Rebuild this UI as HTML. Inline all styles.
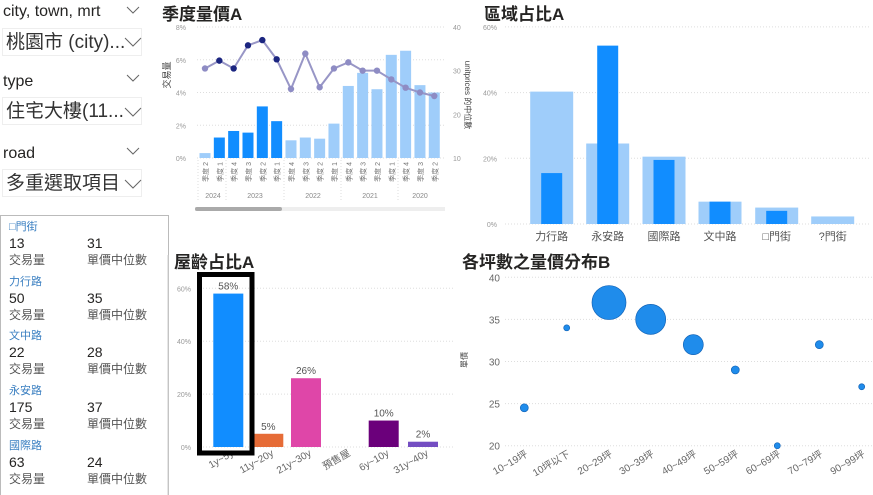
<!DOCTYPE html>
<html><head><meta charset="utf-8"><style>
body{margin:0;width:873px;height:495px;background:#fff;overflow:hidden;position:relative;font-family:"Liberation Sans","Noto Sans CJK TC",sans-serif;}
.a{position:absolute;white-space:nowrap}
.sh{font-size:16px;color:#252423}
.sb{border:1px solid #eee;font-size:19px;color:#333;padding-left:3px;height:28px;line-height:28px;width:140px;box-sizing:border-box}
.t{font-size:11px;color:#3a7fc1}
.n{font-size:14px;color:#252423}
.l{font-size:12px;color:#555}
</style></head><body>
<div class="a sh" style="left:3px;top:3px">city, town, mrt</div>
<div class="a sb" style="left:2px;top:28px">桃園市 (city)...</div>
<div class="a sh" style="left:3px;top:73px">type</div>
<div class="a sb" style="left:2px;top:97px">住宅大樓(11...</div>
<div class="a sh" style="left:3px;top:145px">road</div>
<div class="a sb" style="left:2px;top:169px">多重選取項目</div>
<div class="a" style="left:0;top:215px;width:169px;height:280px;border:1px solid #bbb;border-bottom:none;box-sizing:border-box"></div>
<div id="tbl"></div>
<svg class="a" style="left:0;top:0" width="873" height="495" id="s" font-family="Liberation Sans, Noto Sans CJK TC, sans-serif"></svg>
<script>
var S='';
function R(x,y,w,h,c){S+=`<rect x="${x}" y="${y}" width="${w}" height="${h}" fill="${c}"/>`}
function T(x,y,t,sz,c,a,ex){S+=`<text x="${x}" y="${y}" font-size="${sz}" fill="${c}" text-anchor="${a||'start'}" ${ex||''}>${t}</text>`}
function L(x1,y1,x2,y2,c,ex){S+=`<line x1="${x1}" y1="${y1}" x2="${x2}" y2="${y2}" stroke="${c}" ${ex||''}/>`}
function CH(x,y,s){S+=`<polyline points="${x-s},${y-s/2} ${x},${y+s/2} ${x+s},${y-s/2}" fill="none" stroke="#666" stroke-width="1"/>`}
CH(133,10,6);CH(133,42,8);CH(133,78,6);CH(133,112,8);CH(133,151,6);CH(133,184,8);
// titles
T(162,20,'季度量價A',17,'#252423','start','font-weight="bold"');
T(484,20,'區域占比A',17,'#252423','start','font-weight="bold"');
T(174,268,'屋齡占比A',17,'#252423','start','font-weight="bold"');
T(462,268,'各坪數之量價分布B',17,'#252423','start','font-weight="bold"');
// chart1
for(var i=0;i<=4;i++){var y=158-i*32.75;L(197,y,445,y,'#ddd','stroke-dasharray="1,2"');T(186,y+3,(i*2)+'%',7,'#999','end');}
for(var i=0;i<4;i++){T(453,158-i*43.67+3,10+i*10,7,'#999')}
T(170,75,'交易量',9,'#444','middle','transform="rotate(-90 170 75)"');
T(465,95,'unitprices 的中位數',8,'#444','middle','transform="rotate(90 465 95)"');
var bh=[0.3,1.25,1.65,1.55,3.15,2.25,1.08,1.25,1.18,2.1,4.4,5.2,4.2,6.3,6.55,4.45,4.0];
var lv=[30.5,32.3,30.5,35.8,37,32.6,25.8,33.9,26.2,30.5,31.9,30,30,28,26.1,25,24.2];
var q=['2','1','4','3','2','1','4','3','2','1','4','3','2','1','4','3','2'];
var pts=[];
for(i=0;i<17;i++){var cx=205+i*14.33,h=bh[i]*16.375,dk=(i>=1&&i<=5);R(cx-5.5,158-h,11,h,dk?'#118dff':'#9fcdfa');pts.push([cx,158-(lv[i]-10)*4.367]);
T(cx+3,162,'季度 '+q[i],7,'#777','end','transform="rotate(-90 '+(cx+3)+' 162)"');}
S+='<polyline fill="none" stroke="#9896c6" stroke-width="2" points="'+pts.map(p=>p.join(',')).join(' ')+'"/>';
for(i=0;i<17;i++){var dk=(i>=1&&i<=5);S+=`<circle cx="${pts[i][0]}" cy="${pts[i][1]}" r="3.2" fill="${dk?'#1b2580':'#8e8cc4'}"/>`}
[[213,'2024'],[255,'2023'],[313,'2022'],[370,'2021'],[420,'2020']].forEach(p=>T(p[0],198,p[1],7,'#888','middle'));
[198,226,284,341,398].forEach(x=>L(x,160,x,202,'#ddd','stroke-dasharray="1,2"'));
R(195,207,250,4,'#eee');S+='<rect x="195" y="207" width="87" height="4" rx="2" fill="#aaa"/>';
// chart2
for(i=0;i<4;i++){var y=224-i*65.7;L(505,y,870,y,'#ddd','stroke-dasharray="1,2"');T(497,y+3,(i*20)+'%',7,'#999','end');}
var cc=[551.7,607.7,664,720,776.7,832.7],lg=[40.3,24.5,20.5,6.8,5,2.3],dg=[15.5,54.3,19.5,6.8,4,0],nm=['力行路','永安路','國際路','文中路','□門街','?門街'];
for(i=0;i<6;i++){R(cc[i]-21.5,224-lg[i]*3.285,43,lg[i]*3.285,'#9fcdfa');if(dg[i])R(cc[i]-10.5,224-dg[i]*3.285,21,dg[i]*3.285,'#118dff');T(cc[i],240,nm[i],11,'#555','middle');}
// chart3
for(i=0;i<4;i++){var y=447-i*52.9;L(200,y,455,y,'#ddd','stroke-dasharray="1,2"');T(191,y+3,(i*20)+'%',7,'#999','end');}
L(168,255,168,495,'#ccc');
var ac=[228.3,268.3,306,345,383.7,423],av=[58,5,26,0,10,2],acol=['#118dff','#e66c37','#df46a8','','#6b007b','#744ec2'],an=['1y~5y','11y~20y','21y~30y','預售屋','6y~10y','31y~40y'];
for(i=0;i<6;i++){if(av[i]){var h=av[i]*2.645;R(ac[i]-15,447-h,30,h,acol[i]);T(ac[i],447-h-4,av[i]+'%',10,'#555','middle');}
T(ac[i]+6,455,an[i],10,'#666','end','transform="rotate(-30 '+(ac[i]+6)+' 455)"');}
S+='<rect x="199.5" y="274.5" width="52.5" height="178.5" fill="none" stroke="#000" stroke-width="5"/>';
// chart4
for(i=0;i<5;i++){var y=445.7-i*42.1;L(505,y,873,y,'#ddd','stroke-dasharray="1,2"');T(500,y+4,20+i*5,10,'#666','end');}
T(467,360,'單價',8,'#444','middle','transform="rotate(-90 467 360)"');
var bp=[[524.3,24.5,4,'10~19坪'],[566.7,34,3,'10坪以下'],[609,37,17,'20~29坪'],[650.7,35,15,'30~39坪'],[693.3,32,10,'40~49坪'],[735.3,29,4,'50~59坪'],[777.3,20,3,'60~69坪'],[819.3,32,4,'70~79坪'],[861.7,27,3,'90~99坪']];
bp.forEach(p=>{S+=`<circle cx="${p[0]}" cy="${445.7-(p[1]-20)*8.42}" r="${p[2]}" fill="#1f8ceb" stroke="#1565b8" stroke-width="0.7"/>`;T(p[0]+4,456,p[3],10,'#666','end','transform="rotate(-30 '+(p[0]+4)+' 456)"');});
document.getElementById('s').innerHTML=S;
// table
var rows=[['□門街',13,31],['力行路',50,35],['文中路',22,28],['永安路',175,37],['國際路',63,24]],H='';
rows.forEach((r,k)=>{var y=218+k*54.7;H+=`<div class="a t" style="left:9px;top:${y}px">${r[0]}</div><div class="a n" style="left:9px;top:${y+17}px">${r[1]}</div><div class="a n" style="left:87px;top:${y+17}px">${r[2]}</div><div class="a l" style="left:9px;top:${y+33}px">交易量</div><div class="a l" style="left:87px;top:${y+33}px">單價中位數</div>`});
document.getElementById('tbl').innerHTML=H;
</script>
</body></html>
